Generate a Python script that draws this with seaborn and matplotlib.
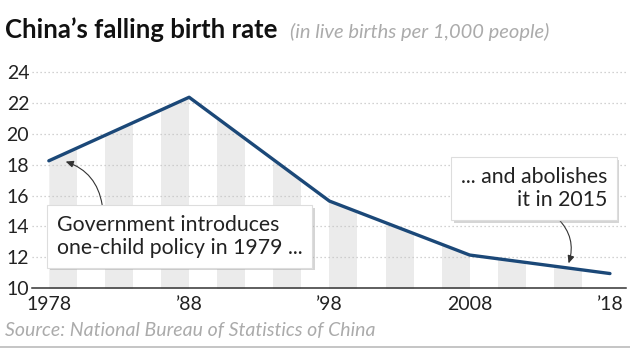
import matplotlib
matplotlib.use("Agg")
import matplotlib.pyplot as plt
import matplotlib.path as mpath
import matplotlib.patheffects as pe
from matplotlib.lines import Line2D
import seaborn as sns
import pandas as pd

# data
years = [1978, 1988, 1998, 2008, 2018]
birth_rate = [18.25, 22.37, 15.64, 12.14, 10.94]
tick_years = [1978, 1988, 1998, 2008, 2018]
tick_labels = ["1978", "\u201988", "\u201998", "2008", "\u201918"]
y_ticks = [10, 12, 14, 16, 18, 20, 22, 24]
stripe_starts = [1978, 1982, 1986, 1990, 1994, 1998, 2002, 2006, 2010, 2014]
stripe_width = 2

note_1979 = "Government introduces\none-child policy in 1979 ..."
note_2015 = "... and abolishes\nit in 2015"

df = pd.DataFrame({"year": years, "rate": birth_rate})

sns.set_style("white")
plt.rcParams["font.family"] = ["Lato", "DejaVu Sans"]

LINE = "#1b4878"
TXT = "#222222"
GREY = "#ababab"

fig = plt.figure(figsize=(6.3, 3.5), dpi=100)
ax = fig.add_axes([0.0508, 0.177, 0.943, 0.639])

ax.set_xlim(1976.8, 2019.15)
ax.set_ylim(10, 24.5)

# grey stripes: the area under the line, clipped to every other two years
area = ax.fill_between(df["year"], df["rate"], 10, color="#ebebeb", lw=0, zorder=1)
clip = mpath.Path.make_compound_path(*[
    mpath.Path([(s, 0), (s + stripe_width, 0), (s + stripe_width, 40), (s, 40), (s, 0)], closed=True)
    for s in stripe_starts
])
area.set_clip_path(clip, ax.transData)

# dotted grid
for v in y_ticks[1:]:
    ax.axhline(v, color="#c4c4c4", lw=0.9, ls=(0, (1, 2.2)), zorder=2)

sns.lineplot(data=df, x="year", y="rate", ax=ax, color=LINE, lw=2.4, zorder=4)

for s in ["top", "right", "left"]:
    ax.spines[s].set_visible(False)
ax.spines["bottom"].set_color("#333333")
ax.spines["bottom"].set_linewidth(1.1)
ax.spines["bottom"].set_zorder(5)

ax.set_xticks(tick_years)
ax.set_xticklabels(tick_labels)
ax.set_yticks(y_ticks)
ax.tick_params(axis="x", length=3, pad=3, labelsize=14, labelcolor=TXT)
ax.tick_params(axis="y", length=0, pad=2, labelsize=14, labelcolor=TXT)
# the x ticks are small dots sitting on the axis
for t in ax.xaxis.get_major_ticks():
    t.tick1line.set_marker("o")
    t.tick1line.set_markersize(3)
    t.tick1line.set_color("#222222")
    t.tick1line.set_zorder(6)
ax.set_xlabel("")
ax.set_ylabel("")

shadow = [pe.withSimplePatchShadow(offset=(2, -2), shadow_rgbFace="#888888", alpha=0.35)]
box = dict(boxstyle="square,pad=0.45", fc="white", ec="#dddddd", lw=0.8)

t1 = ax.text(1978.55, 13.35, note_1979, ha="left", va="center", fontsize=15.3,
             color=TXT, linespacing=1.2, bbox=box, zorder=7)
t1.get_bbox_patch().set_path_effects(shadow)
t2 = ax.text(2017.8, 16.45, note_2015, ha="right", va="center", fontsize=15.3,
             color=TXT, linespacing=1.2, multialignment="right", bbox=box, zorder=7)
t2.get_bbox_patch().set_path_effects(shadow)

arrow = dict(arrowstyle="-|>,head_length=0.45,head_width=0.2", color="#333333", lw=0.8,
             shrinkA=0, shrinkB=0)
ax.annotate("", xy=(1979.2, 18.2), xytext=(1981.8, 15.4),
            arrowprops=dict(connectionstyle="arc3,rad=0.3", **arrow), zorder=6)
ax.annotate("", xy=(2015.05, 11.6), xytext=(2014.3, 14.5),
            arrowprops=dict(connectionstyle="arc3,rad=-0.3", **arrow), zorder=6)

fig.text(0.008, 0.892, "China\u2019s falling birth rate", fontsize=18.5, fontweight="bold",
         color="#111111", ha="left", va="baseline")
fig.text(0.461, 0.892, "(in live births per 1,000 people)", fontsize=14.5, style="italic",
         color=GREY, ha="left", va="baseline")
fig.text(0.008, 0.04, "Source: National Bureau of Statistics of China", fontsize=14,
         style="italic", color=GREY, ha="left", va="baseline")
fig.add_artist(Line2D([0, 1], [0.008, 0.008], transform=fig.transFigure, color="#bbbbbb", lw=1.2))

fig.savefig("out.png", dpi=100)
